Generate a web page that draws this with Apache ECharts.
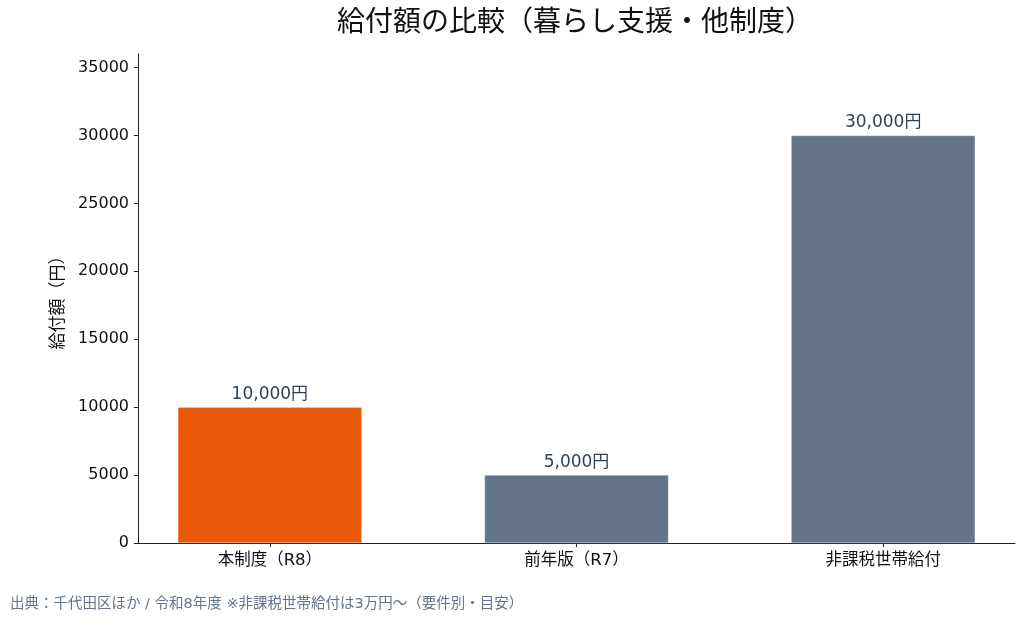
<!doctype html>
<html lang="ja">
<head>
    <meta charset="UTF-8">
    <title>給付額の比較</title>
    <style>
        html, body { margin: 0; padding: 0; background: #fff; }
        #chart { width: 1024px; height: 619px; }
    </style>
    <script src="https://cdn.jsdelivr.net/npm/echarts@6/dist/echarts.min.js"></script>
</head>
<body>
<div id="chart"></div>
<script type="text/javascript">
    // データ
    var categories = ['本制度（R8）', '前年版（R7）', '非課税世帯給付'];
    var amounts = [10000, 5000, 30000];
    var barColors = ['#ea580c', '#64748b', '#64748b'];
    var yTicks = [0, 5000, 10000, 15000, 20000, 25000, 30000, 35000];
    var catPositions = [0, 1, 2];

    var font = '"DejaVu Sans", "Noto Sans CJK JP", sans-serif';
    var axisColor = '#222';

    var barData = [];
    for (var i = 0; i < categories.length; i++) {
        barData.push({
            value: [catPositions[i], amounts[i]],
            itemStyle: { color: barColors[i] }
        });
    }

    var myChart = echarts.init(document.getElementById('chart'));
    myChart.setOption({
        animation: false,
        textStyle: { fontFamily: font },
        title: [{
            text: '給付額の比較（暮らし支援・他制度）',
            left: 570,
            top: 5,
            textAlign: 'center',
            textStyle: { fontFamily: font, fontSize: 28, fontWeight: 'normal', color: '#111' }
        }, {
            text: '出典：千代田区ほか / 令和8年度 ※非課税世帯給付は3万円〜（要件別・目安）',
            left: 5,
            top: 592,
            textStyle: { fontFamily: font, fontSize: 14.5, fontWeight: 'normal', color: '#64748b' }
        }],
        grid: { left: 138, right: 9, top: 54, bottom: 76 },
        xAxis: {
            type: 'value',
            min: -0.43,
            max: 2.43,
            splitLine: { show: false },
            axisLine: { show: true, onZero: false, lineStyle: { color: axisColor, width: 1 } },
            axisTick: { show: true, length: 4, customValues: catPositions, lineStyle: { color: axisColor } },
            axisLabel: {
                customValues: catPositions,
                margin: 9,
                fontSize: 16.5,
                color: '#111',
                fontFamily: font,
                formatter: function (v) { return categories[Math.round(v)]; }
            }
        },
        yAxis: {
            type: 'value',
            min: 0,
            max: 36000,
            name: '給付額（円）',
            nameLocation: 'middle',
            nameGap: 63,
            nameRotate: 90,
            nameTextStyle: { fontFamily: font, fontSize: 17, color: '#111' },
            splitLine: { show: false },
            axisLine: { show: true, onZero: false, lineStyle: { color: axisColor, width: 1 } },
            axisTick: { show: true, length: 4, customValues: yTicks, lineStyle: { color: axisColor } },
            axisLabel: {
                customValues: yTicks,
                margin: 9,
                fontSize: 16,
                color: '#111',
                fontFamily: font,
                formatter: function (v) { return String(v); }
            }
        },
        series: [{
            type: 'bar',
            data: barData,
            barWidth: 184,
            itemStyle: { borderColor: 'rgba(255,255,255,0.5)', borderWidth: 0.5 },
            label: {
                show: true,
                position: 'top',
                distance: 4,
                fontSize: 17,
                color: '#334155',
                fontFamily: font,
                formatter: function (p) {
                    return p.value[1].toLocaleString('en-US') + '円';
                }
            }
        }]
    });
</script>
</body>
</html>
